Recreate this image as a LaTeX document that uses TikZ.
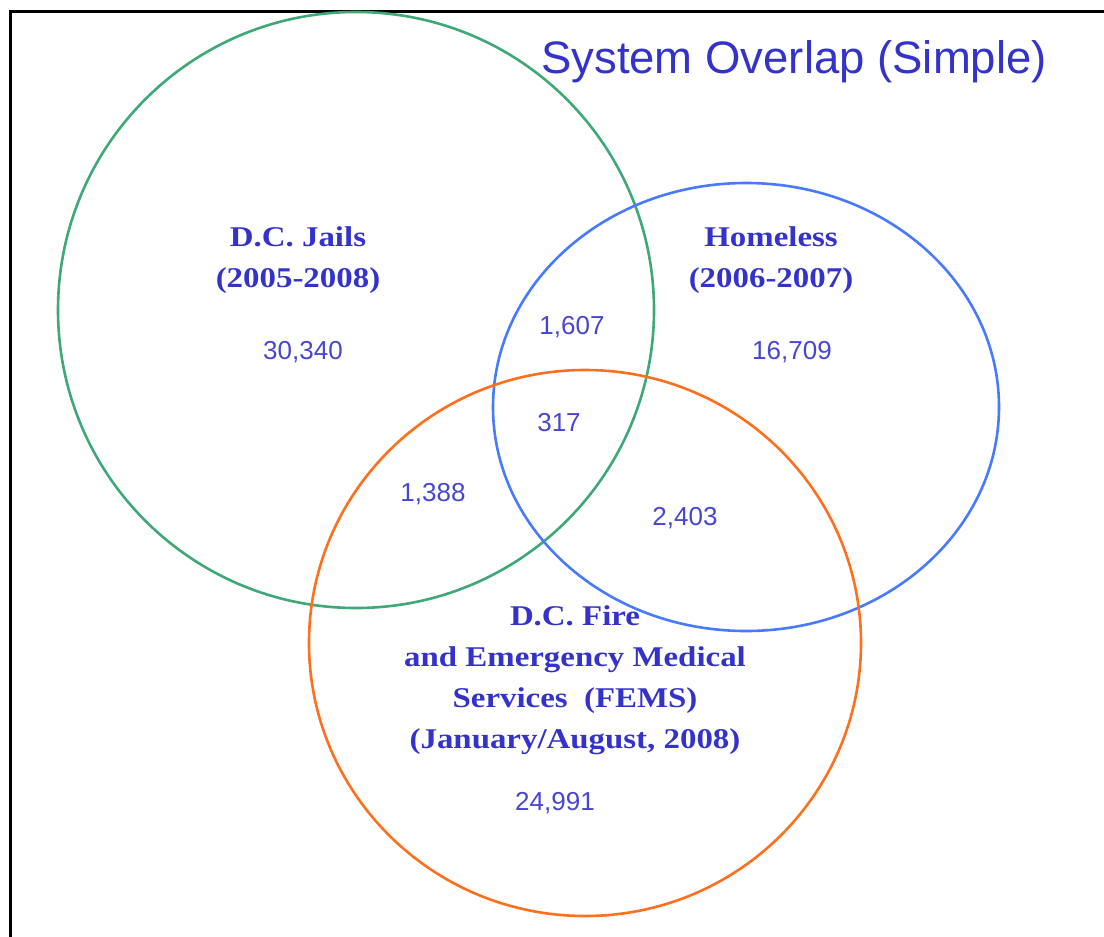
\documentclass[tikz,border=0pt]{standalone}
\usepackage{fontspec}
\setmainfont{Liberation Sans}
\newfontfamily\labelfont[FakeStretch=1.15]{Liberation Serif}
\definecolor{titleblue}{RGB}{51,51,204}
\definecolor{countblue}{RGB}{70,70,210}
\definecolor{jailgreen}{RGB}{62,168,118}
\definecolor{homeblue}{RGB}{72,122,255}
\definecolor{femsorange}{RGB}{255,112,30}
\begin{document}
\begin{tikzpicture}
  [x=1pt,y=-1pt,
   title/.style={text=titleblue,font=\fontsize{45.5}{54}\selectfont,inner sep=0pt},
   group/.style={text=titleblue,font=\labelfont\bfseries\fontsize{28.6}{41}\selectfont,align=center,inner sep=0pt},
   count/.style={text=countblue,font=\fontsize{26}{30}\selectfont,inner sep=0pt},
   ring/.style={line width=2.6pt}]
  \useasboundingbox (0,0) rectangle (1104,937);
  \draw[line width=3pt] (10,937) -- (10,11) -- (1104,11);

  % the three sets
  \draw[ring,jailgreen] (356,310) circle [radius=298];
  \draw[ring,homeblue] (746,407) ellipse [x radius=253, y radius=224];
  \draw[ring,femsorange] (585,643) ellipse [x radius=276, y radius=273];

  \node[title] (head) at (794,62) {System Overlap (Simple)};

  \node[group] (jails) at (298,260) {D.C. Jails\\(2005-2008)};
  \node[group] (homeless) at (771,260) {Homeless\\(2006-2007)};
  \node[group] (fems) at (575,680) {D.C. Fire\\and Emergency Medical\\Services\ \ (FEMS)\\(January/August, 2008)};

  \node[count] (jonly) at (303,352) {30,340};
  \node[count] (honly) at (792,352) {16,709};
  \node[count] (fonly) at (555,803) {24,991};
  \node[count] (jh) at (572,327) {1,607};
  \node[count] (jhf) at (559,423) {317};
  \node[count] (jf) at (433,494) {1,388};
  \node[count] (hf) at (685,518) {2,403};
\end{tikzpicture}
\end{document}
